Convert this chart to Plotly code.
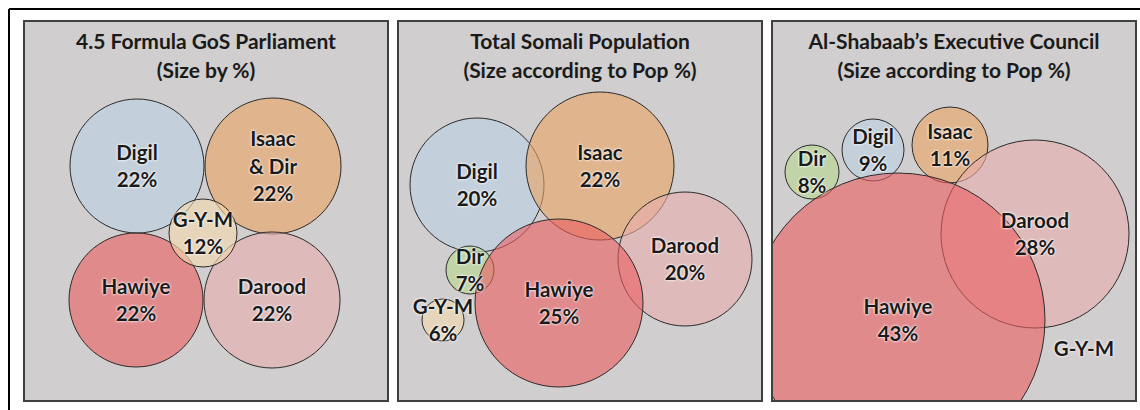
import plotly.graph_objects as go

# ---- data ----
titles = [
    ["4.5 Formula GoS Parliament", "(Size by %)"],
    ["Total Somali Population", "(Size according to Pop %)"],
    ["Al-Shabaab’s Executive Council", "(Size according to Pop %)"],
]

p1_clans = ["Digil", "Isaac<br>& Dir", "Hawiye", "Darood", "G-Y-M"]
p1_pct = ["22%", "22%", "22%", "22%", "12%"]

p2_clans = ["Digil", "Isaac", "Darood", "Dir", "G-Y-M", "Hawiye"]
p2_pct = ["20%", "22%", "20%", "7%", "6%", "25%"]

p3_clans = ["Dir", "Digil", "Isaac", "Darood", "Hawiye", "G-Y-M"]
p3_pct = ["8%", "9%", "11%", "28%", "43%", ""]

# bubble layout (panel pixels: x, y from top, radius)
p1_x = [112, 248, 111, 247, 178]
p1_y = [144, 144, 278, 278, 211]
p1_r = [67, 68, 67, 68, 34]

p2_x = [78, 201, 286, 71, 44, 160]
p2_y = [163, 144, 237, 248, 298, 281]
p2_r = [67, 74, 67, 24, 21, 84]

p3_x = [39, 100, 177, 262, 125, 311]
p3_y = [150, 128, 123, 212, 298, 326]
p3_r = [27, 31, 38, 94, 147, 0]

clan_color = {
    "Digil": "rgba(188,210,228,0.62)",
    "Isaac": "rgba(235,163,99,0.6)",
    "Isaac<br>& Dir": "rgba(235,163,99,0.6)",
    "Hawiye": "rgba(235,93,96,0.6)",
    "Darood": "rgba(231,173,173,0.6)",
    "G-Y-M": "rgba(245,219,173,0.6)",
    "Dir": "rgba(183,216,143,0.6)",
}

W, H = 1140, 410
PW, PH = 362, 378
panel_x0 = [25, 399, 773]
panel_y0 = 22
FONT = "Lato"

fig = go.Figure()
panels = [
    (p1_clans, p1_pct, p1_x, p1_y, p1_r),
    (p2_clans, p2_pct, p2_x, p2_y, p2_r),
    (p3_clans, p3_pct, p3_x, p3_y, p3_r),
]

for i, (clans, pct, xs, ys, rs) in enumerate(panels):
    n = "" if i == 0 else str(i + 1)
    xa, ya = "x" + n, "y" + n
    # circles
    for c, x, y, r in zip(clans, xs, ys, rs):
        if r <= 0:
            continue
        fig.add_trace(go.Scatter(
            x=[x], y=[y], mode="markers", xaxis=xa, yaxis=ya, hoverinfo="skip",
            marker=dict(size=2 * r, color=clan_color[c],
                        line=dict(color="#2b2b2b", width=1)),
            cliponaxis=True, showlegend=False))
    # labels, one point per text line
    tx, ty, tt = [], [], []
    for c, p, x, y in zip(clans, pct, xs, ys):
        lines = c.split("<br>") + ([p] if p else [])
        k = len(lines)
        for j, ln in enumerate(lines):
            tx.append(x)
            ty.append(y + 2.5 + (j - (k - 1) / 2) * 27.5)
            tt.append(ln)
    fig.add_trace(go.Scatter(
        x=tx, y=ty, text=tt, mode="text", xaxis=xa, yaxis=ya, hoverinfo="skip",
        textfont=dict(family=FONT, size=20.5, color="#1a1a1a", weight="bold",
                      shadow="0px 0px 2px #ffffff, 0px 0px 3px #ffffff"),
        cliponaxis=False, showlegend=False))
    # title
    fig.add_trace(go.Scatter(
        x=[PW / 2, PW / 2], y=[22, 51], text=titles[i], mode="text",
        xaxis=xa, yaxis=ya, hoverinfo="skip",
        textfont=dict(family=FONT, size=21, color="#1a1a1a", weight="bold"),
        cliponaxis=False, showlegend=False))

    x0 = panel_x0[i]
    axis_common = dict(showgrid=False, zeroline=False, showticklabels=False,
                       ticks="", showline=True, mirror=True,
                       linecolor="#404040", linewidth=2, fixedrange=True)
    fig.layout["xaxis" + n] = dict(axis_common, range=[0, PW],
                                   domain=[x0 / W, (x0 + PW) / W], anchor=ya)
    fig.layout["yaxis" + n] = dict(axis_common, range=[PH, 0],
                                   domain=[1 - (panel_y0 + PH) / H, 1 - panel_y0 / H],
                                   anchor=xa)

# outer frame (top and left edges)
fig.add_shape(type="line", xref="paper", yref="paper", x0=9 / W, x1=1, y0=1 - 9 / H, y1=1 - 9 / H,
              line=dict(color="#000000", width=2))
fig.add_shape(type="line", xref="paper", yref="paper", x0=9 / W, x1=9 / W, y0=0, y1=1 - 9 / H,
              line=dict(color="#000000", width=2))

fig.update_layout(width=W, height=H, margin=dict(l=0, r=0, t=0, b=0),
                  paper_bgcolor="#ffffff", plot_bgcolor="#d0cece",
                  font=dict(family=FONT))

fig.write_html("out.html", config={"displayModeBar": False},
               post_script="document.body.style.margin='0';document.body.style.overflow='hidden';")
